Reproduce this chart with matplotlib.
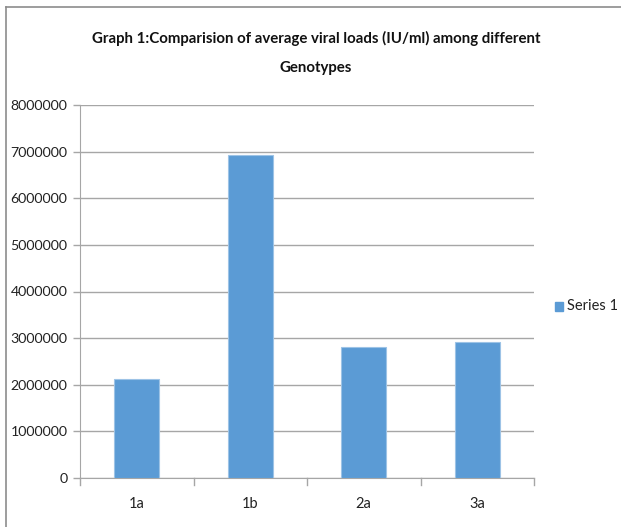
import matplotlib.pyplot as plt
from matplotlib.patches import Rectangle
from matplotlib.lines import Line2D
import numpy as np

genotypes = ["1a", "1b", "2a", "3a"]
viral_loads = [2120000, 6920000, 2810000, 2920000]
y_ticks = [0, 1000000, 2000000, 3000000, 4000000, 5000000, 6000000, 7000000, 8000000]
series_name = "Series 1"
title = "Graph 1:Comparision of average viral loads (IU/ml) among different\nGenotypes"

plt.rcParams['font.family'] = ['Lato', 'DejaVu Sans']

fig = plt.figure(figsize=(6.21, 5.27), dpi=100)
ax = fig.add_axes([80 / 621, 1 - 478 / 527, 454 / 621, 373 / 527])

x = np.arange(len(genotypes))
ax.bar(x, viral_loads, width=0.4, color="#5B9BD5", edgecolor="#9DC3E6",
       linewidth=0.8, zorder=3, label=series_name)

ax.set_xlim(-0.5, len(genotypes) - 0.5)
ax.set_ylim(0, 8000000)
ax.set_yticks(y_ticks)
ax.set_yticklabels([str(v) for v in y_ticks], fontsize=10.2, color="#222222")
ax.yaxis.grid(True, color="#A6A6A6", linewidth=1.0, zorder=0)
ax.set_xticks(x)
ax.set_xticklabels(genotypes, fontsize=10.5, color="#222222")
ax.tick_params(axis="x", length=0, pad=14)
ax.tick_params(axis="y", length=5, color="#A6A6A6", width=1, pad=4)

# category boundary ticks below the x axis
for b in np.arange(-0.5, len(genotypes), 1.0):
    ax.plot([b, b], [0, -150000], color="#A6A6A6", lw=1, clip_on=False, zorder=4)

for side in ["top", "right"]:
    ax.spines[side].set_visible(False)
ax.spines["left"].set_color("#A6A6A6")
ax.spines["bottom"].set_color("#A6A6A6")

fig.text(316 / 621, 1 - 53 / 527, title, ha="center", va="center",
         fontsize=10.8, fontweight="bold", linespacing=2.3, color="#111111")

# legend drawn by hand
fig.add_artist(Rectangle((555 / 621, 1 - 311 / 527), 8 / 621, 9 / 527,
                         transform=fig.transFigure, color="#5B9BD5"))
fig.text(567 / 621, 1 - 306 / 527, series_name, ha="left", va="center",
         fontsize=10.5, color="#222222")

# outer frame (top and left only visible)
fig.add_artist(Line2D([6 / 621, 1], [1 - 7 / 527, 1 - 7 / 527], color="#8C8C8C", lw=1.2,
                      transform=fig.transFigure))
fig.add_artist(Line2D([6 / 621, 6 / 621], [0, 1 - 7 / 527], color="#8C8C8C", lw=1.2,
                      transform=fig.transFigure))

fig.savefig("out.png", dpi=100)
